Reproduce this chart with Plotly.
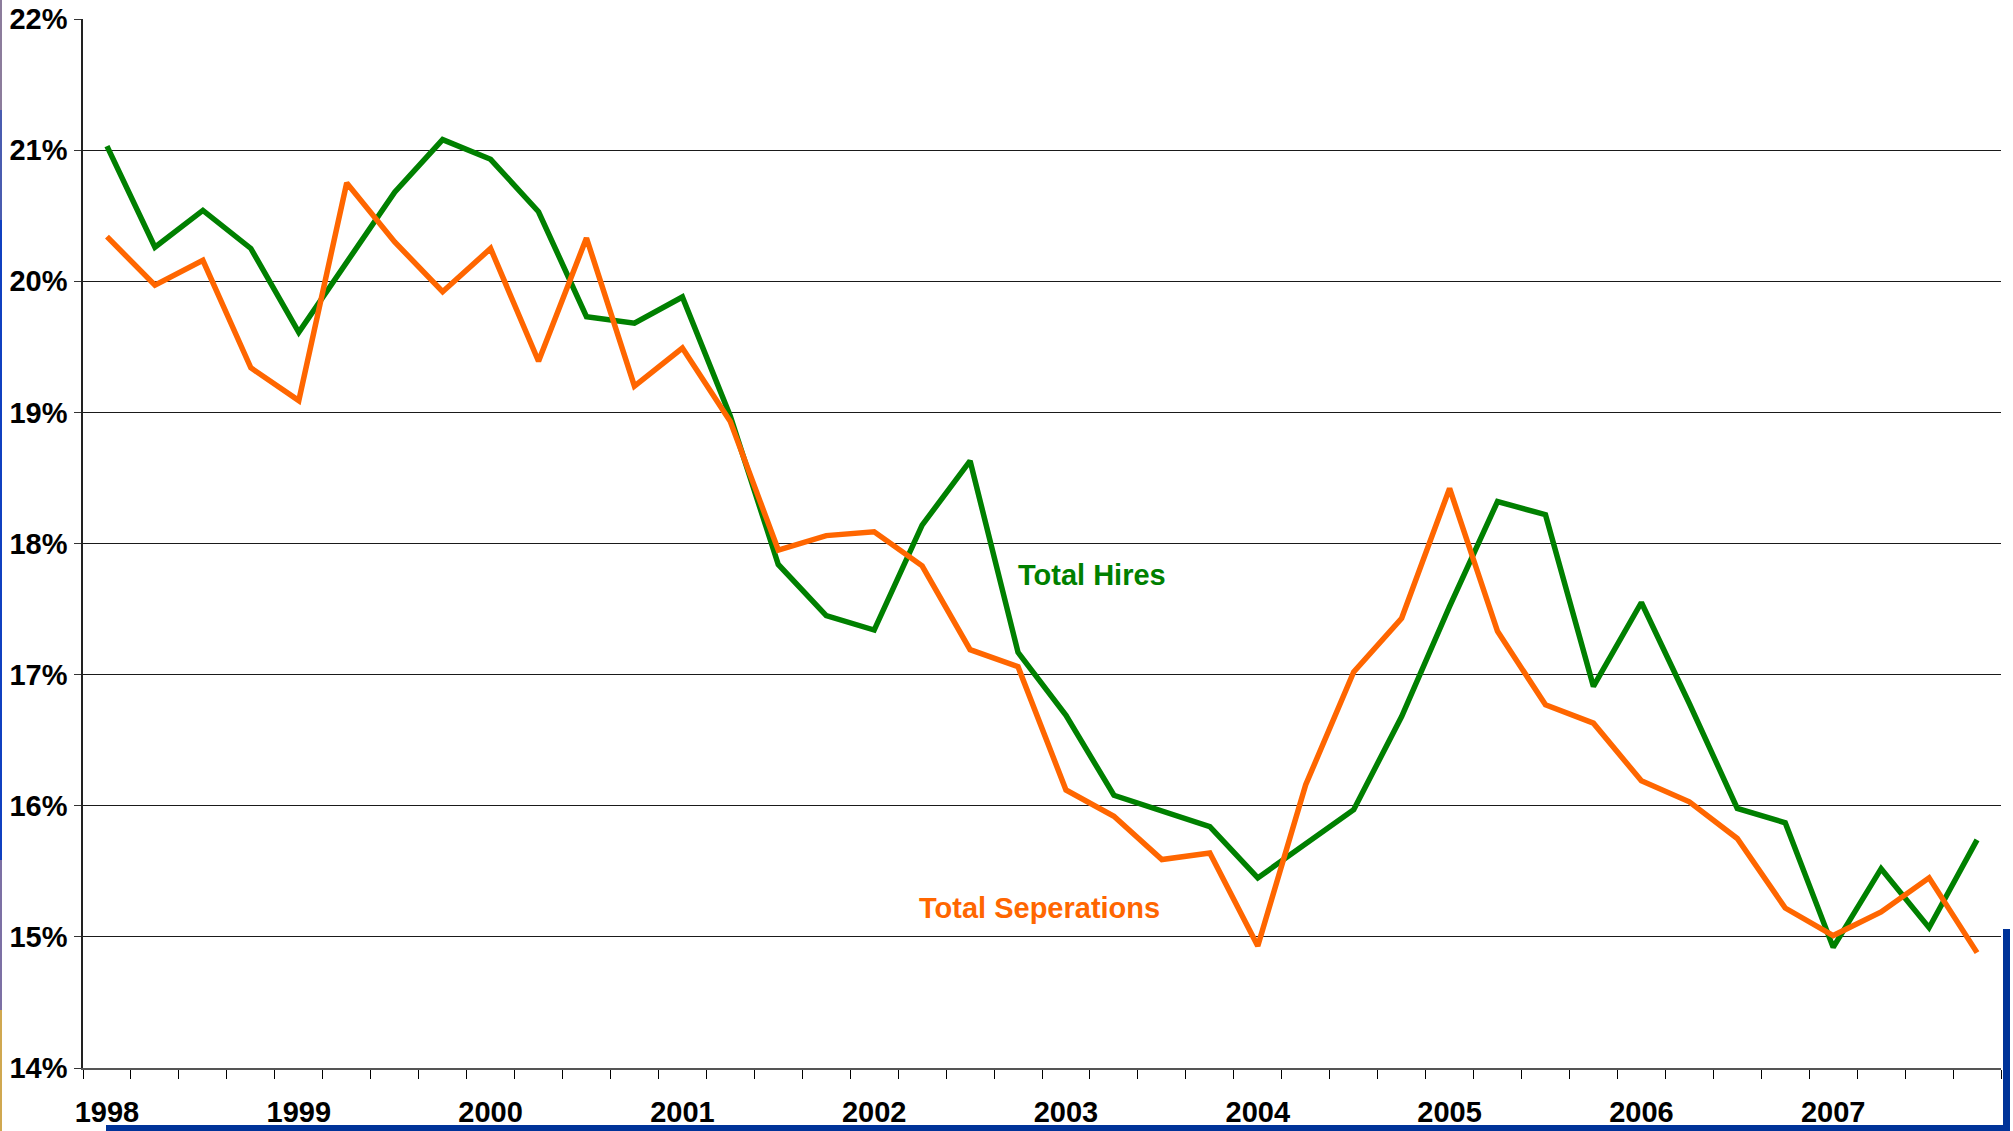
import plotly.graph_objects as go

# quarterly rates, 1998 Q1 .. 2007 Q4
years = [str(y) for y in range(1998, 2008)]
quarters = [f"{y} Q{q}" for y in years for q in range(1, 5)]

total_hires = [21.03, 20.26, 20.54, 20.25, 19.61, 20.14, 20.68, 21.08, 20.93, 20.53,
               19.73, 19.68, 19.88, 18.97, 17.84, 17.45, 17.34, 18.14, 18.63, 17.17,
               16.69, 16.08, 15.96, 15.84, 15.45, 15.71, 15.97, 16.68, 17.52, 18.32,
               18.22, 16.91, 17.55, 16.78, 15.98, 15.87, 14.92, 15.52, 15.07, 15.74]

total_separations = [20.34, 19.97, 20.16, 19.34, 19.09, 20.75, 20.30, 19.92, 20.25, 19.39,
                     20.33, 19.20, 19.49, 18.93, 17.95, 18.06, 18.09, 17.83, 17.19, 17.06,
                     16.12, 15.92, 15.59, 15.64, 14.93, 16.16, 17.02, 17.43, 18.42, 17.33,
                     16.77, 16.63, 16.19, 16.03, 15.75, 15.22, 15.01, 15.19, 15.45, 14.88]

y_ticks = [14, 15, 16, 17, 18, 19, 20, 21, 22]

W, H = 2013, 1131
L, R, T, B = 83, 12, 19, 63

x = list(range(len(quarters)))
year_pos = [quarters.index(f"{y} Q1") for y in years]

GREEN = "#008000"
ORANGE = "#FF6600"
BLUE = "#003399"

fig = go.Figure()
fig.add_trace(go.Scatter(x=x, y=total_hires, mode="lines", name="Total Hires",
                         line=dict(color=GREEN, width=5.5)))
fig.add_trace(go.Scatter(x=x, y=total_separations, mode="lines", name="Total Seperations",
                         line=dict(color=ORANGE, width=5.5)))


def px_x(p):
    return (p - L) / (W - L - R)


def px_y(p):
    return (H - B - p) / (H - T - B)


# slide decorations (frame bars)
deco = [
    (2003, 929, 2010, 1131, BLUE),
    (106, 1125, 2010, 1131, BLUE),
    (0, 0, 2, 110, "#8c7c9c"),
    (0, 110, 2, 220, "#4a5cb0"),
    (0, 220, 2, 860, "#1040c0"),
    (0, 860, 2, 1010, "#7c70a4"),
    (0, 1010, 2, 1131, "#d0a850"),
]
for x0, y0, x1, y1, c in deco:
    fig.add_shape(type="rect", xref="paper", yref="paper",
                  x0=px_x(x0), x1=px_x(x1), y0=px_y(y0), y1=px_y(y1),
                  fillcolor=c, line=dict(width=0), layer="above")

fig.add_annotation(x=20.54, y=17.76, text="Total Hires", showarrow=False,
                   font=dict(family="Liberation Sans, Arial", size=29, color=GREEN, weight="bold"))
fig.add_annotation(x=19.44, y=15.22, text="Total Seperations", showarrow=False,
                   font=dict(family="Liberation Sans, Arial", size=29, color=ORANGE, weight="bold"))

tick_font = dict(family="Liberation Sans, Arial", size=29, color="black", weight="bold")

fig.update_layout(
    width=W, height=H,
    margin=dict(l=L, r=R, t=T, b=B, autoexpand=False),
    paper_bgcolor="white", plot_bgcolor="white",
    showlegend=False,
    xaxis=dict(
        range=[-0.5, len(quarters) - 0.5],
        tickmode="array", tickvals=year_pos, ticktext=years,
        ticks="outside", ticklen=9, tickcolor="rgba(0,0,0,0)",
        ticklabelstandoff=8,
        tickfont=tick_font, automargin=False,
        showgrid=False, zeroline=False,
        showline=True, linecolor="#555555", linewidth=2,
        minor=dict(tickmode="array", tickvals=[i - 0.5 for i in range(len(quarters) + 1)],
                   ticks="outside", ticklen=9, tickcolor="black", tickwidth=1.3,
                   showgrid=False),
    ),
    yaxis=dict(
        range=[14, 22],
        tickmode="array", tickvals=y_ticks, ticktext=[f"{v}%" for v in y_ticks],
        ticks="outside", ticklen=7, tickcolor="#333333",
        ticklabelstandoff=1,
        tickfont=tick_font, automargin=False,
        showgrid=True, gridcolor="#1a1a1a", gridwidth=1.3,
        zeroline=False,
        showline=True, linecolor="#222222", linewidth=1.5,
    ),
)

fig.write_html("out.html", config={"displayModeBar": False},
               post_script="document.body.style.margin='0';document.body.style.overflow='hidden';")
